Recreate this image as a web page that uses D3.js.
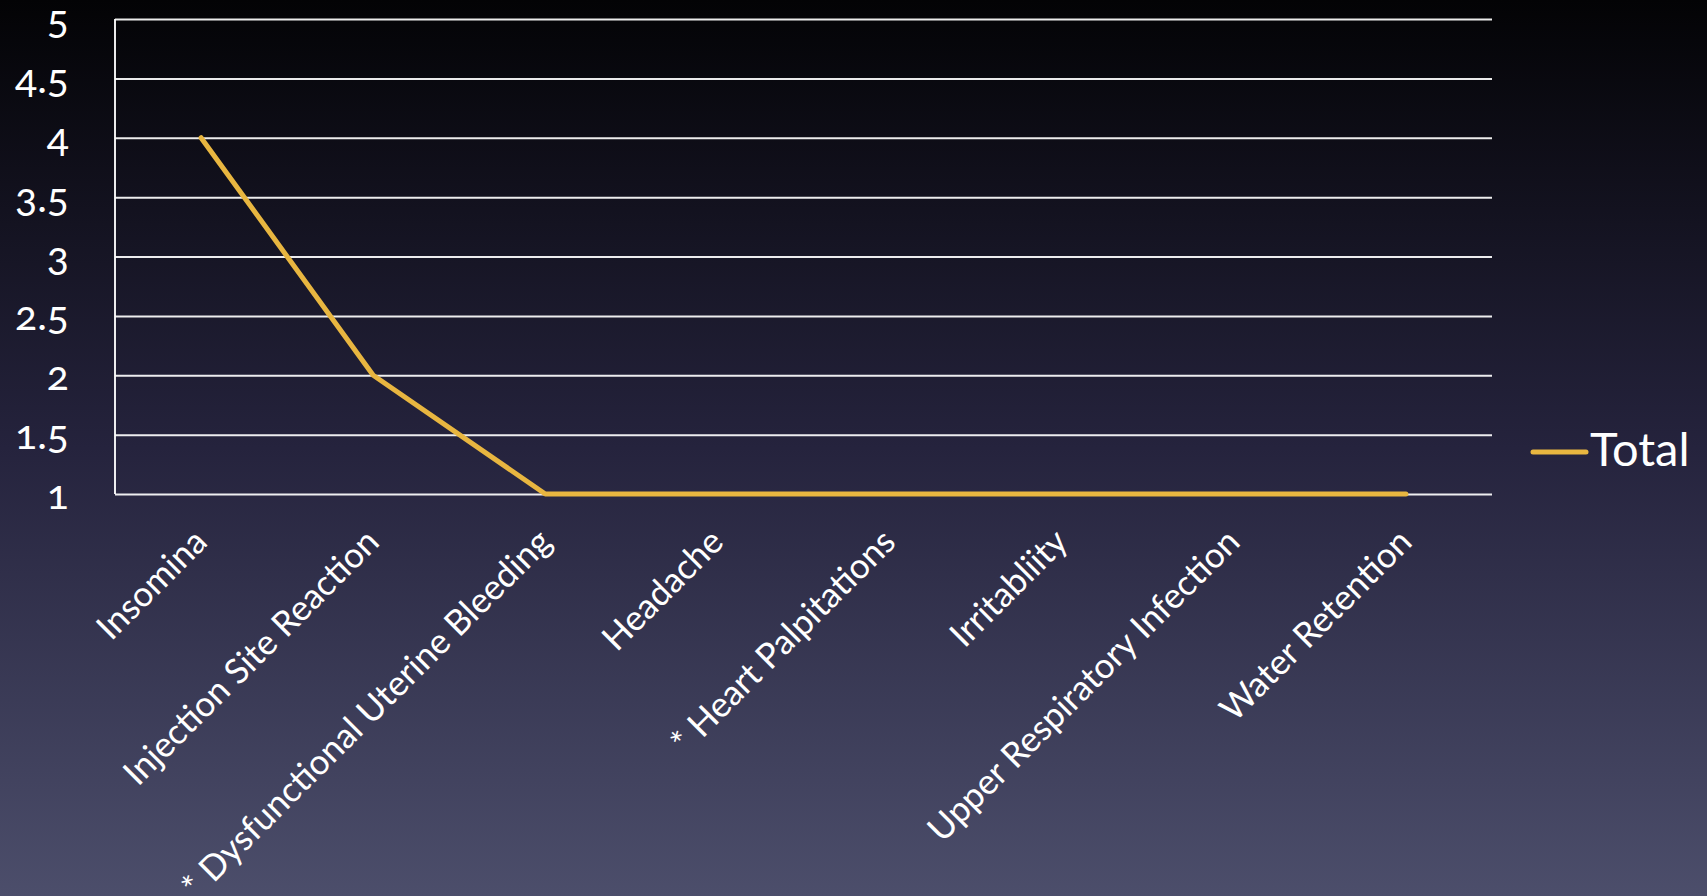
<!DOCTYPE html>
<html><head><meta charset="utf-8">
<script src="https://cdn.jsdelivr.net/npm/d3@7"></script>
<style>html,body{margin:0;padding:0;overflow:hidden;}</style>
</head><body>
<svg id="c" width="1707" height="896"></svg>
<script>
const categories = ["Insomina","Injection Site Reaction","* Dysfunctional Uterine Bleeding","Headache","* Heart Palpitations","Irritabliity","Upper Respiratory Infection","Water Retention"];
const totalValues = [4,2,1,1,1,1,1,1];
const yTicks = [1,1.5,2,2.5,3,3.5,4,4.5,5];
const seriesName = "Total";

const W=1707,H=896;
const m={l:115,r:215,t:19,b:402};
const svg=d3.select("#c");
const defs=svg.append("defs");
const g0=defs.append("linearGradient").attr("id","bg").attr("x1",0).attr("y1",0).attr("x2",0).attr("y2",1);
g0.append("stop").attr("offset","0%").attr("stop-color","#030305");
g0.append("stop").attr("offset","50%").attr("stop-color","#25233d");
g0.append("stop").attr("offset","100%").attr("stop-color","#4c4e6b");
svg.append("rect").attr("width",W).attr("height",H).attr("fill","url(#bg)");

const x=d3.scaleBand().domain(categories).range([m.l,W-m.r]);
const y=d3.scaleLinear().domain([1,5]).range([H-m.b,m.t]);

const font="Lato, 'Open Sans', sans-serif";
// gridlines
svg.append("g").attr("transform",`translate(${m.l},0)`)
 .call(d3.axisLeft(y).tickValues(yTicks).tickSize(-(W-m.r-m.l)).tickFormat(""))
 .call(g=>g.select(".domain").remove())
 .call(g=>g.selectAll("line").attr("stroke","#ffffff").attr("stroke-width",2).attr("opacity",0.92));
// left axis line
svg.append("line").attr("x1",m.l).attr("x2",m.l).attr("y1",y(5)).attr("y2",y(1)).attr("stroke","#fff").attr("stroke-width",2).attr("opacity",0.92);
// y labels
const ya=svg.append("g").attr("transform",`translate(${m.l},0)`)
 .call(d3.axisLeft(y).tickValues(yTicks).tickSize(0).tickPadding(46).tickFormat(d=>String(d)));
ya.select(".domain").remove();
ya.selectAll("text").attr("fill","#fff").style("font-family",font).style("font-size","41px")
 .style("font-variant-numeric","oldstyle-nums").style("font-feature-settings","'onum' 1")
 .attr("dy","14px");

// x labels
const xa=svg.append("g").attr("transform",`translate(0,${y(1)})`)
 .call(d3.axisBottom(x).tickSize(0).tickFormat(d=>d));
xa.select(".domain").remove();
xa.selectAll("text").attr("fill","#fff").style("font-family",font).style("font-size","35px").style("font-weight","400")
 .attr("text-anchor","end").attr("dy",null).attr("y",0)
 .attr("transform","translate(8,50) rotate(-45)");

// line
const line=d3.line().x((d,i)=>x(categories[i])+x.bandwidth()/2).y(d=>y(d));
svg.append("path").datum(totalValues).attr("d",line).attr("fill","none")
 .attr("stroke","#e8b640").attr("stroke-width",5).attr("stroke-linecap","round").attr("stroke-linejoin","round");

// legend
const lg=svg.append("g");
lg.append("line").attr("x1",1533).attr("x2",1586).attr("y1",452).attr("y2",452).attr("stroke","#e8b640").attr("stroke-width",5).attr("stroke-linecap","round");
lg.append("text").attr("x",1590).attr("y",466).attr("fill","#fff").style("font-family",font).style("font-size","47px").text(seriesName);
</script>
</body></html>
